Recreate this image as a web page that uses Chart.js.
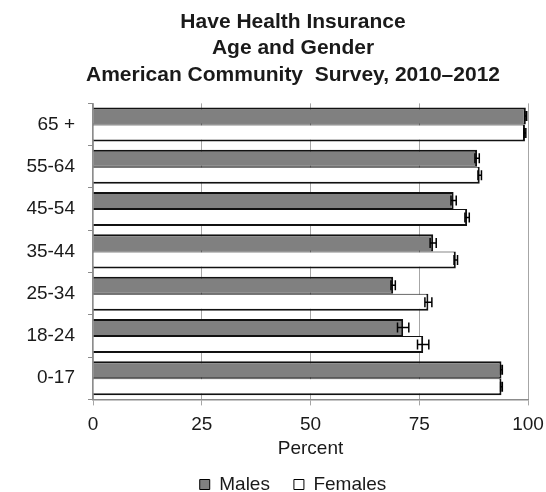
<!DOCTYPE html>
<html>
<head>
<meta charset="utf-8">
<script src="https://cdn.jsdelivr.net/npm/chart.js@4.4.1/dist/chart.umd.min.js"></script>
<style>
  html, body { margin: 0; padding: 0; background: #fff; }
  #wrap { width: 546px; height: 492px; }
</style>
</head>
<body>
<div id="wrap"><canvas id="insurance-chart" width="546" height="492"></canvas></div>
<script>
// age groups, top to bottom
const ageGroups = ['65 +', '55-64', '45-54', '35-44', '25-34', '18-24', '0-17'];
const malesPct = [99.5, 88.3, 82.9, 78.2, 69.0, 71.3, 93.9];
const femalesPct = [99.3, 88.9, 86.0, 83.4, 77.1, 75.9, 93.9];
// margin of error (+/-)
const malesErr = [0.2, 0.5, 0.6, 0.7, 0.5, 1.3, 0.2];
const femalesErr = [0.2, 0.4, 0.5, 0.4, 0.8, 1.3, 0.2];
const percentTicks = [0, 25, 50, 75, 100];

const FONT = '"Liberation Sans", Arial, sans-serif';
const INK = '#1a1a1a';
const CENTER_LEFT = 58; // title and legend are centred over the plot, not the canvas

// draws the +/- whiskers on every bar
const errorBars = {
  id: 'errorBars',
  afterDatasetsDraw(chart) {
    const ctx = chart.ctx;
    const xScale = chart.scales.x;
    const errs = [malesErr, femalesErr];
    ctx.save();
    ctx.strokeStyle = '#000';
    ctx.lineWidth = 1.5;
    chart.data.datasets.forEach((ds, i) => {
      const meta = chart.getDatasetMeta(i);
      meta.data.forEach((bar, j) => {
        const v = ds.data[j];
        const e = errs[i][j];
        const x0 = xScale.getPixelForValue(v - e);
        const x1 = xScale.getPixelForValue(v + e);
        const y = bar.y;
        const cap = 5;
        ctx.beginPath();
        ctx.moveTo(x0, y);
        ctx.lineTo(x1, y);
        ctx.moveTo(x0, y - cap);
        ctx.lineTo(x0, y + cap);
        ctx.moveTo(x1, y - cap);
        ctx.lineTo(x1, y + cap);
        ctx.stroke();
      });
    });
    ctx.restore();
  }
};

const shiftBlocks = {
  id: 'shiftBlocks',
  afterLayout(chart) {
    if (chart.titleBlock) chart.titleBlock.left = CENTER_LEFT;
    if (chart.legend) chart.legend.left = CENTER_LEFT;
  }
};

new Chart(document.getElementById('insurance-chart'), {
  type: 'bar',
  data: {
    labels: ageGroups,
    datasets: [
      {
        label: 'Males',
        data: malesPct,
        backgroundColor: '#808080',
        borderColor: '#111',
        // thinner on the side that touches the female bar
        borderWidth: { top: 2, right: 2, bottom: 1, left: 0 },
        borderSkipped: false,
        barPercentage: 1.0,
        categoryPercentage: 0.805,
      },
      {
        label: 'Females',
        data: femalesPct,
        backgroundColor: '#ffffff',
        borderColor: '#111',
        borderWidth: { top: 1, right: 2, bottom: 2, left: 0 },
        borderSkipped: false,
        barPercentage: 1.0,
        categoryPercentage: 0.805,
      },
    ],
  },
  options: {
    indexAxis: 'y',
    responsive: false,
    animation: false,
    layout: {
      padding: { left: 0, right: 18, top: 0, bottom: -12 },
    },
    plugins: {
      title: {
        display: true,
        text: ['Have Health Insurance', 'Age and Gender', 'American Community  Survey, 2010\u20132012'],
        color: INK,
        font: { family: FONT, size: 21, weight: 'bold', lineHeight: 1.26 },
        padding: { top: 9, bottom: 15 },
      },
      legend: {
        position: 'bottom',
        labels: {
          color: INK,
          font: { family: FONT, size: 19 },
          boxWidth: 10,
          boxHeight: 10,
          padding: 24,
          generateLabels(chart) {
            return chart.data.datasets.map((ds, i) => ({
              text: ds.label,
              fillStyle: ds.backgroundColor,
              strokeStyle: '#000',
              lineWidth: 1,
              datasetIndex: i,
              fontColor: INK,
            }));
          },
        },
      },
      tooltip: { enabled: false },
    },
    scales: {
      x: {
        min: 0,
        max: 100,
        afterBuildTicks(scale) {
          scale.ticks = percentTicks.map(v => ({ value: v }));
        },
        afterFit(scale) {
          // the "100" label may hang past the plot edge
          scale.paddingLeft = 0;
          scale.paddingRight = 0;
        },
        grid: {
          color: '#a6a6a6',
          lineWidth: 1,
          tickLength: 6,
        },
        border: { color: '#8c8c8c', width: 1.5 },
        ticks: {
          color: INK,
          font: { family: FONT, size: 19 },
          padding: 8,
          maxRotation: 0,
        },
        title: {
          display: true,
          text: 'Percent',
          color: INK,
          font: { family: FONT, size: 19 },
          padding: { top: -7, bottom: -9 },
        },
      },
      y: {
        afterFit(scale) {
          scale.width = 93;
        },
        grid: {
          drawOnChartArea: false,
          color: '#8c8c8c',
          tickLength: 5,
          offset: true,
        },
        border: { color: '#8c8c8c', width: 1.5 },
        ticks: {
          color: INK,
          font: { family: FONT, size: 19 },
          padding: 13,
        },
      },
    },
  },
  plugins: [errorBars, shiftBlocks],
});
</script>
</body>
</html>
